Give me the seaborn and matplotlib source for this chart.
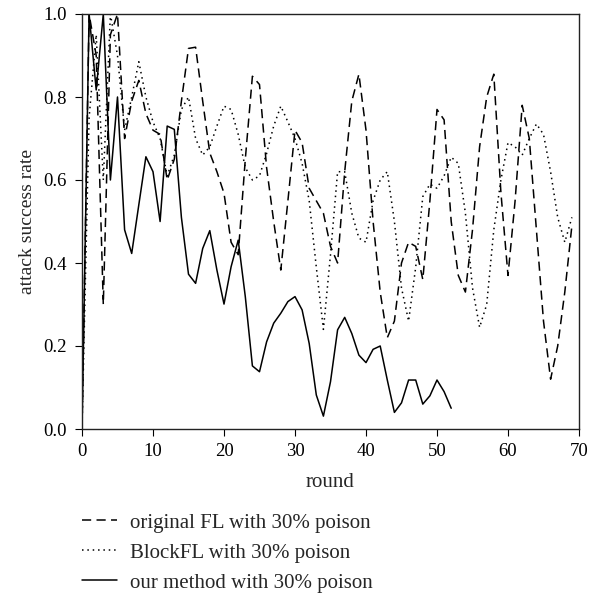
import numpy as np
import pandas as pd
import matplotlib
matplotlib.use("Agg")
import matplotlib.pyplot as plt
import seaborn as sns

# attack success rate per training round
rounds_fl = list(range(0, 70))
original_fl = [0.0, 1.0, 0.9, 0.30, 0.95, 1.0, 0.70, 0.79, 0.84, 0.76,
               0.72, 0.71, 0.60, 0.65, 0.79, 0.917, 0.92, 0.79, 0.665, 0.62,
               0.568, 0.45, 0.42, 0.65, 0.85, 0.83, 0.63, 0.50, 0.383, 0.55,
               0.72, 0.69, 0.58, 0.55, 0.52, 0.44, 0.40, 0.62, 0.79, 0.855,
               0.72, 0.50, 0.33, 0.22, 0.26, 0.40, 0.45, 0.44, 0.36, 0.55,
               0.77, 0.745, 0.50, 0.37, 0.33, 0.48, 0.68, 0.80, 0.855, 0.57,
               0.37, 0.55, 0.78, 0.70, 0.48, 0.26, 0.12, 0.20, 0.33, 0.49]

rounds_block = list(range(0, 70))
block_fl = [0.0, 0.75, 0.95, 0.60, 1.0, 0.90, 0.72, 0.80, 0.885, 0.80,
            0.74, 0.70, 0.61, 0.66, 0.77, 0.80, 0.70, 0.66, 0.68, 0.73,
            0.778, 0.77, 0.71, 0.63, 0.60, 0.61, 0.664, 0.73, 0.778, 0.74,
            0.70, 0.64, 0.55, 0.39, 0.24, 0.42, 0.62, 0.62, 0.52, 0.46,
            0.45, 0.55, 0.60, 0.62, 0.50, 0.34, 0.26, 0.39, 0.56, 0.59,
            0.58, 0.61, 0.655, 0.64, 0.52, 0.34, 0.245, 0.30, 0.48, 0.60,
            0.69, 0.68, 0.66, 0.70, 0.735, 0.71, 0.62, 0.51, 0.45, 0.51]

rounds_ours = list(range(0, 53))
our_method = [0.0, 1.0, 0.817, 1.0, 0.60, 0.80, 0.48, 0.423, 0.54, 0.656,
              0.62, 0.50, 0.73, 0.722, 0.51, 0.373, 0.351, 0.435, 0.478, 0.383,
              0.301, 0.391, 0.455, 0.319, 0.152, 0.138, 0.21, 0.255, 0.279, 0.307,
              0.319, 0.287, 0.206, 0.082, 0.031, 0.114, 0.239, 0.269, 0.23, 0.178,
              0.16, 0.192, 0.20, 0.118, 0.04, 0.063, 0.118, 0.118, 0.06, 0.08,
              0.118, 0.09, 0.05]

labels = ["original FL with 30% poison",
          "BlockFL with 30% poison",
          "our method with 30% poison"]
x_ticks = [0, 10, 20, 30, 40, 50, 60, 70]
y_ticks = [0.0, 0.2, 0.4, 0.6, 0.8, 1.0]

sns.set_style("ticks")
plt.rcParams["font.family"] = ["Liberation Serif", "DejaVu Serif"]
plt.rcParams["font.size"] = 13

fig = plt.figure(figsize=(6.02, 5.93), dpi=100)
ax = fig.add_axes([82 / 602, 1 - 429 / 593, (579 - 82) / 602, (429 - 14) / 593])

styles = [(0, (6, 3.5)), (0, (1, 2.5)), "-"]
series = [(rounds_fl, original_fl), (rounds_block, block_fl), (rounds_ours, our_method)]
for (xs, ys), lab, ls in zip(series, labels, styles):
    df = pd.DataFrame({"round": xs, "rate": ys})
    sns.lineplot(data=df, x="round", y="rate", ax=ax, color="black",
                 linewidth=1.1, linestyle=ls, label=lab)

if ax.get_legend() is not None:
    ax.get_legend().remove()

ax.set_xlim(0, 70)
ax.set_ylim(0, 1.0)
ax.set_xticks(x_ticks)
ax.set_yticks(y_ticks)
ax.set_yticklabels([f"{v:.1f}" for v in y_ticks])
ax.set_xlabel("round", fontsize=15)
ax.set_ylabel("attack success rate", fontsize=14)
ax.xaxis.set_label_coords(0.5, -0.107)
ax.yaxis.set_label_coords(-0.092, 0.5)
ax.tick_params(axis="both", direction="out", length=5, width=0.8, pad=5,
               labelsize=13.5, colors="black", top=False, right=False)
ax.tick_params(axis="y", pad=6)
for sp in ax.spines.values():
    sp.set_visible(True)
    sp.set_color("#222222")
    sp.set_linewidth(1.0)

handles = ax.get_lines()[:3]
fig.legend(handles, labels, loc="upper left", bbox_to_anchor=(82 / 602, 1 - 513 / 593),
           frameon=False, fontsize=15, handlelength=1.68, handletextpad=0.62,
           labelspacing=0.5, borderaxespad=0, borderpad=0)

fig.savefig("out.png", dpi=100)
